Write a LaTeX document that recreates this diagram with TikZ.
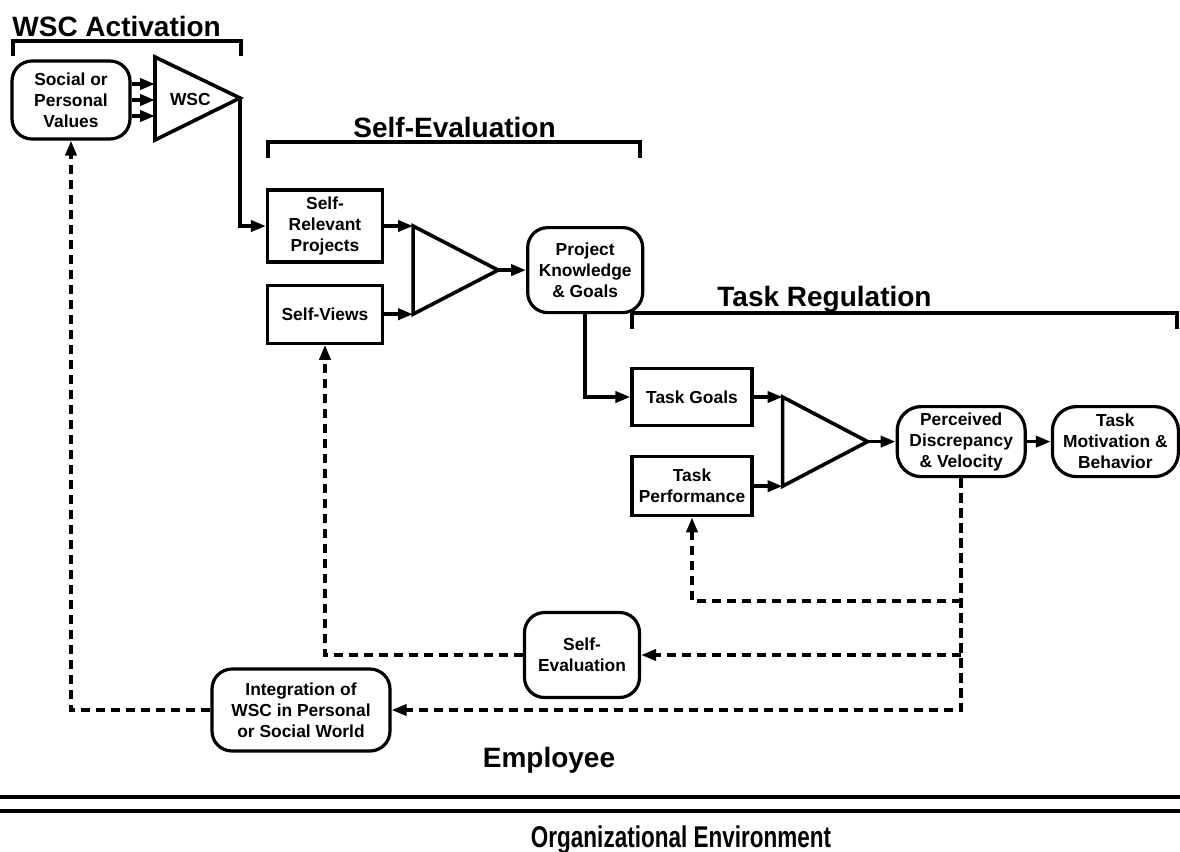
\documentclass[tikz,border=0pt]{standalone}
\usepackage{fontspec}
\setmainfont{Liberation Sans}
\newfontfamily\narrowfont[FakeStretch=0.75]{Liberation Sans}
\usetikzlibrary{calc}
\usetikzlibrary{positioning}
\usetikzlibrary{arrows.meta}
\newcommand{\stagefont}{\bfseries\fontsize{8.7}{10.5}\selectfont}
\tikzset{
    % Solid filled heads, as on the flow arrows
    >={Triangle[length=7.5pt,width=5.5pt]},
%
    % A plain square cornered stage
    stage box/.style={
        draw, line width=1.6pt, align=center, font=\stagefont,
        inner sep=2pt},
    % A stage with well rounded corners
    state box/.style={stage box, rounded corners=10pt},
%
    % Forward flow and the dashed feedback loops
    flow/.style={line width=1.8pt},
    feedback/.style={flow, dash pattern=on 4.7pt off 2.8pt},
%
    % Section brackets and their titles
    bracket/.style={line width=1.9pt},
    heading/.style={font=\bfseries\fontsize{14}{16}\selectfont, inner sep=0pt}}

\begin{document}
\begin{tikzpicture}[x=0.5pt, y=-0.5pt]
\useasboundingbox (0,0) rectangle (1180,852);

% Draws a comparing triangle named #1 whose base is #2 east of the upper
% stage #3 and the lower stage #4, fed by both of them
\newcommand{\comparator}[4]{
\path (#3.east) ++(#2,0) coordinate (#1 top);
\path (#4.east) ++(#2,0) coordinate (#1 bottom);
\draw [flow] (#1 top) -- ($(#1 top)!0.5!(#1 bottom)+(85,0)$) coordinate (#1 tip)
    -- (#1 bottom) -- cycle;
\draw [flow, ->] (#3.east) -- (#1 top);
\draw [flow, ->] (#4.east) -- (#1 bottom);
}

% WSC activation
\node [heading, anchor=base west] (activation title) at (12,36) {WSC Activation};
\draw [bracket] (13,56) |- (241,41) -- (241,56);
\node [state box, minimum width=59pt, minimum height=39pt]
    (values) at (71,100) {Social or\\Personal\\Values};
\draw [flow] (155,57) coordinate (wsc in) -- (240,98) coordinate (wsc tip)
    -- (155,140) -- cycle;
\node [font=\stagefont, anchor=west] (wsc) at (163,100) {WSC};
\foreach \dy in {-16,0,16}
    \draw [flow, ->] ($(values.east)+(0,\dy)$) -- ($(values.east -| wsc in)+(0,\dy)$);

% Self-evaluation
\node [heading, anchor=base west] (evaluation title) at (353,137) {Self-Evaluation};
\draw [bracket] (268,158) |- (640,142) -- (640,158);
\node [stage box, minimum width=57.5pt, minimum height=36pt]
    (relevant) at (325,226) {Self-\\Relevant\\Projects};
\node [stage box, minimum width=57.5pt, minimum height=29pt, below=10pt of relevant]
    (views) {Self-Views};
\draw [flow, ->] (wsc tip) |- (relevant.west);
\comparator{appraisal}{29}{relevant}{views}
\node [state box, minimum width=57.5pt, minimum height=42.5pt, right=14pt of appraisal tip]
    (knowledge) {Project\\Knowledge\\\& Goals};
\draw [flow, ->] (appraisal tip) -- (knowledge);

% Task regulation
\node [heading, anchor=base west] (regulation title) at (717,306) {Task Regulation};
\draw [bracket] (632,329) |- (1177,313) -- (1177,329);
\node [stage box, minimum width=60pt, minimum height=28.5pt]
    (task goals) at (692,397) {Task Goals};
\node [stage box, minimum width=60pt, minimum height=29.5pt, below=14pt of task goals]
    (performance) {Task\\Performance};
\draw [flow, ->] (knowledge.south) |- (task goals.west);
\comparator{control}{29}{task goals}{performance}
\node [state box, minimum width=64pt, minimum height=35pt, right=14pt of control tip,
    rounded corners=12pt]
    (discrepancy) {Perceived\\Discrepancy\\\& Velocity};
\node [state box, minimum width=63pt, minimum height=35pt, right=12pt of discrepancy,
    rounded corners=12pt]
    (motivation) {Task\\Motivation \&\\Behavior};
\draw [flow, ->] (control tip) -- (discrepancy);
\draw [flow, ->] (discrepancy) -- (motivation);

% Feedback loops
\node [state box, minimum width=57.5pt, minimum height=42.5pt]
    (self evaluation) at (582,655) {Self-\\Evaluation};
\node [state box, minimum width=89pt, minimum height=41pt]
    (integration) at (301,710) {Integration of\\WSC in Personal\\or Social World};
\coordinate (performance tap) at ($(discrepancy.south)+(0,123)$);
\draw [feedback, ->] (discrepancy.south) |- (integration.east);
\draw [feedback, ->] (performance tap) -| (performance.south);
\draw [feedback, ->] (discrepancy.south |- self evaluation.east) -- (self evaluation.east);
\draw [feedback, ->] (self evaluation.west) -| (views.south);
\draw [feedback, ->] (integration.west) -| (values.south);

% Employee and organisation
\node [heading, anchor=base] (employee) at (549,767) {Employee};
\draw [line width=2.4pt] (0,797) -- (1180,797);
\draw [line width=2.4pt] (0,811) -- (1180,811);
\node [heading, anchor=base, font=\narrowfont\bfseries\fontsize{15}{17}\selectfont]
    (environment) at (681,847) {Organizational Environment};

\end{tikzpicture}
\end{document}
